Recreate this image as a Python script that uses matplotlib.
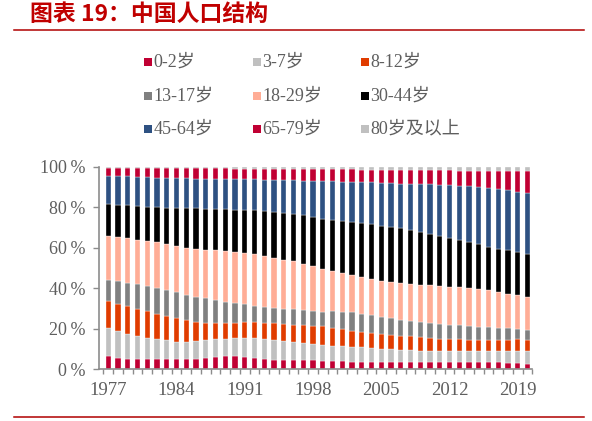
import matplotlib
matplotlib.use("Agg")
import matplotlib.pyplot as plt
from matplotlib.patches import Rectangle
from matplotlib.lines import Line2D
import numpy as np

years = list(range(1977, 2021))
tick_years = [1977, 1984, 1991, 1998, 2005, 2012, 2019]
y_ticks = [0, 20, 40, 60, 80, 100]

groups = ["0-2岁", "3-7岁", "8-12岁", "13-17岁", "18-29岁", "30-44岁", "45-64岁", "65-79岁", "80岁及以上"]
colors = ["#C00033", "#C0C0C0", "#E03C00", "#808080", "#FFAD96", "#000000", "#2E5182", "#C00033", "#C0C0C0"]

age_0_2 = [6.6, 5.8, 4.9, 4.9, 4.9, 5.3, 5.3, 5.3, 4.9, 5.1, 5.6, 6.1, 6.4, 6.4, 6.1, 5.6, 5.1, 4.8, 4.4, 4.4, 4.4, 4.4,
           4.1, 4.0, 4.0, 3.8, 3.6, 3.5, 3.5, 3.5, 3.5, 3.5, 3.5, 3.5, 3.6, 3.8, 3.8, 3.8, 3.6, 3.5, 3.6, 3.3, 3.0, 2.6]
age_3_7 = [13.8, 13.0, 12.7, 11.6, 10.6, 9.5, 9.0, 8.4, 8.8, 8.7, 8.7, 8.7, 8.8, 9.1, 9.6, 9.9, 10.1, 9.9, 9.8, 9.1, 8.6, 8.0,
           7.8, 7.5, 7.4, 7.2, 7.3, 7.0, 6.5, 6.4, 6.1, 5.9, 5.7, 5.7, 5.6, 5.4, 5.4, 5.4, 5.6, 5.7, 5.6, 5.9, 5.9, 6.3]
age_8_12 = [13.4, 13.7, 13.7, 13.3, 13.2, 12.7, 12.1, 11.7, 10.5, 9.6, 8.8, 8.1, 7.7, 7.6, 7.5, 7.9, 7.9, 8.2, 8.4, 8.6, 8.7, 9.0,
            9.5, 9.1, 8.4, 7.9, 7.6, 7.3, 7.5, 7.2, 7.0, 6.9, 6.8, 6.3, 6.0, 5.8, 5.6, 5.5, 5.5, 5.3, 5.3, 5.4, 5.9, 5.4]
age_13_17 = [10.5, 11.0, 11.5, 12.2, 12.3, 12.7, 12.6, 12.7, 12.5, 12.4, 12.0, 11.4, 10.4, 9.7, 8.9, 7.9, 7.7, 7.4, 7.4, 7.6, 7.6, 7.6,
             7.1, 8.1, 8.5, 9.3, 9.0, 8.9, 8.4, 8.1, 7.6, 7.4, 7.2, 7.4, 7.2, 6.9, 6.9, 6.9, 6.2, 6.4, 6.1, 5.8, 5.3, 5.3]
age_18_29 = [21.4, 21.9, 21.9, 22.1, 22.6, 22.6, 22.8, 22.9, 23.4, 23.8, 24.0, 24.5, 25.2, 25.2, 25.6, 25.5, 25.2, 24.9, 24.2, 23.7, 22.9, 22.1,
             21.3, 20.1, 19.3, 18.3, 18.0, 17.8, 17.8, 17.8, 18.3, 18.5, 18.6, 18.6, 18.8, 18.8, 18.8, 18.6, 18.8, 18.1, 17.6, 17.0, 16.5, 16.1]
age_30_44 = [16.0, 15.8, 16.4, 16.5, 16.6, 17.3, 18.1, 18.7, 19.5, 20.0, 20.1, 20.4, 20.6, 20.9, 21.2, 21.8, 22.3, 22.6, 23.1, 23.4, 23.9, 24.2,
             24.3, 25.2, 25.5, 26.2, 26.7, 27.2, 27.1, 27.3, 27.2, 26.5, 26.1, 25.2, 24.5, 24.0, 23.3, 22.7, 22.1, 21.5, 21.4, 21.4, 21.2, 21.1]
age_45_64 = [13.9, 14.4, 14.3, 14.5, 14.7, 14.6, 14.7, 14.9, 14.9, 14.6, 15.0, 15.0, 15.0, 15.2, 15.0, 15.3, 15.4, 15.9, 16.1, 16.6, 17.0, 17.8,
             18.8, 18.9, 19.7, 20.1, 20.4, 20.7, 21.5, 22.0, 22.1, 22.9, 23.5, 24.7, 25.6, 26.4, 27.0, 27.7, 28.3, 29.1, 29.4, 29.7, 29.8, 30.3]
age_65_79 = [3.9, 3.9, 4.0, 4.3, 4.5, 4.7, 4.8, 4.7, 4.8, 5.1, 5.1, 5.1, 5.2, 5.0, 5.2, 5.1, 5.3, 5.3, 5.4, 5.4, 5.7, 5.7,
             5.9, 5.9, 6.0, 6.0, 6.1, 6.3, 6.3, 6.3, 6.6, 6.8, 7.0, 7.0, 7.1, 7.3, 7.4, 7.6, 7.9, 8.4, 8.9, 9.4, 10.3, 10.8]
age_80_plus = [0.5, 0.5, 0.6, 0.6, 0.6, 0.6, 0.6, 0.7, 0.7, 0.7, 0.7, 0.7, 0.7, 0.9, 0.9, 1.0, 1.0, 1.0, 1.2, 1.2, 1.2, 1.2,
               1.2, 1.2, 1.2, 1.2, 1.3, 1.3, 1.4, 1.4, 1.6, 1.6, 1.6, 1.6, 1.6, 1.6, 1.8, 1.8, 2.0, 2.0, 2.1, 2.1, 2.1, 2.1]

series = [age_0_2, age_3_7, age_8_12, age_13_17, age_18_29, age_30_44, age_45_64, age_65_79, age_80_plus]

W, H = 592, 421
fig = plt.figure(figsize=(W / 100, H / 100), dpi=100)
fig.patch.set_facecolor("white")

serif_cjk = ["Liberation Serif", "Noto Sans CJK SC"]
txt_col = "#5E5E5E"
axis_col = "#8C8C8C"

ax_l, ax_r, ax_b, ax_t = 98.5, 532.3, 369.3, 167.0
ax = fig.add_axes([ax_l / W, 1 - ax_b / H, (ax_r - ax_l) / W, (ax_b - ax_t) / H])

x = np.arange(len(years))
bottom = np.zeros(len(years))
for vals, col, name in zip(series, colors, groups):
    v = np.array(vals, dtype=float)
    ax.bar(x, v, width=0.55, bottom=bottom, color=col, edgecolor="white", linewidth=0.25, label=name)
    bottom += v

ax.set_xlim(-1.0, len(years) - 0.5)
ax.set_ylim(0, 100)

for s in ["top", "right"]:
    ax.spines[s].set_visible(False)
for s in ["left", "bottom"]:
    ax.spines[s].set_color(axis_col)
    ax.spines[s].set_linewidth(1.2)

ax.set_yticks(y_ticks)
ax.set_yticklabels([f"{t}\u2009%" for t in y_ticks], family=serif_cjk, fontsize=13, color=txt_col)
ax.tick_params(axis="y", direction="out", length=4.3, width=1.0, color=axis_col, pad=5)

ax.set_xticks([years.index(y) for y in tick_years])
ax.set_xticklabels([str(y) for y in tick_years], family=serif_cjk, fontsize=13.5, color=txt_col)
ax.set_xticks(np.arange(-0.5, len(years)), minor=True)
ax.tick_params(axis="x", which="major", length=0, pad=9)
ax.tick_params(axis="x", which="minor", direction="out", length=3.4, width=1.0, color=axis_col)

# legend (manual grid)
col_x = [148, 257, 365]
row_y = [62, 96, 129]
sq = 8
for i, (name, col) in enumerate(zip(groups, colors)):
    r, c = divmod(i, 3)
    px, py = col_x[c], row_y[r]
    fig.add_artist(Rectangle(((px - sq / 2) / W, 1 - (py + sq / 2) / H), sq / W, sq / H,
                             transform=fig.transFigure, facecolor=col, edgecolor="none"))
    fig.text((px + sq / 2 + 1.5) / W, 1 - py / H, name, family=serif_cjk, fontsize=13,
             color=txt_col, ha="left", va="center")

# title and rules
fig.text(30 / W, 1 - 14 / H, "图表 19：中国人口结构", family=["Noto Sans CJK SC"], fontsize=16.5,
         fontweight="bold", color="#C00000", ha="left", va="center")
fig.add_artist(Line2D([14 / W, 584 / W], [1 - 30 / H, 1 - 30 / H], transform=fig.transFigure,
                      color="#B00000", linewidth=1.1))
fig.add_artist(Line2D([14 / W, 584 / W], [1 - 417 / H, 1 - 417 / H], transform=fig.transFigure,
                      color="#B00000", linewidth=1.1))

fig.savefig("out.png", dpi=100, facecolor="white")
